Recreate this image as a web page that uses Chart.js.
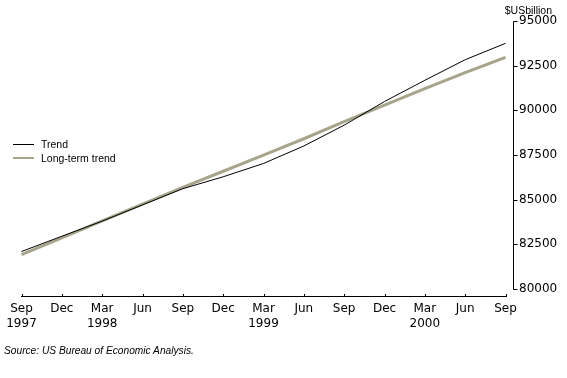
<!DOCTYPE html>
<html><head><meta charset="utf-8">
<script src="https://cdn.jsdelivr.net/npm/chart.js@4"></script>
<style>
html,body{margin:0;padding:0;background:#fff;}
#wrap{position:relative;width:567px;height:378px;overflow:hidden;}
canvas{position:absolute;left:0;top:0;}
.t{position:absolute;font-family:"Liberation Sans",Arial,sans-serif;font-size:10.5px;line-height:12px;color:#000;white-space:nowrap;}
.sw{position:absolute;left:13px;width:21px;}
#src{font-style:italic;font-size:10.2px;}
#unit{right:15px;top:4px;}
</style></head><body>
<div id="wrap">
<canvas id="c" width="567" height="378"></canvas>
<div class="t" id="unit"></div>
<div class="sw" style="top:144px;height:1px;background:#000"></div>
<div class="t" style="left:41px;top:138px;">Trend</div>
<div class="sw" style="top:156.5px;height:2.5px;background:#a6a58c"></div>
<div class="t" style="left:41px;top:152px;">Long-term trend</div>
<div class="t" id="src" style="left:4px;top:345px;">Source: US Bureau of Economic Analysis.</div>
</div>
<script>
const quarters = ['Sep','Dec','Mar','Jun','Sep','Dec','Mar','Jun','Sep','Dec','Mar','Jun','Sep'];
const years = ['1997','','1998','','','','1999','','','','2000','',''];
const trend = [82090,82945,83790,84700,85610,86275,87020,88000,89165,90490,91680,92830,93750];
const longTermTrend = [81910,82855,83800,84740,85680,86585,87490,88405,89360,90290,91215,92110,92965];
const yTicks = [80000,82500,85000,87500,90000,92500,95000];
const unitLabel = '$USbillion';

document.getElementById('unit').textContent = unitLabel;
const labels = quarters.map((q,i)=>[q, years[i]]);

const axisPlugin = {
  id:'axisLines',
  afterDraw(chart){
    const {ctx, chartArea, scales:{x,y}} = chart;
    ctx.save();
    ctx.strokeStyle='#000'; ctx.lineWidth=1;
    const ax = Math.round(chartArea.right + 7) + 0.5;
    const yTop = Math.round(y.getPixelForValue(yTicks[yTicks.length-1])) + 0.5;
    const yBot = Math.round(y.getPixelForValue(yTicks[0])) + 0.5;
    ctx.beginPath();
    ctx.moveTo(ax, yTop); ctx.lineTo(ax, yBot);
    yTicks.forEach(v=>{ const p=Math.round(y.getPixelForValue(v))+0.5; ctx.moveTo(ax,p); ctx.lineTo(ax+4,p); });
    const by = Math.round(chartArea.bottom);
    quarters.forEach((q,i)=>{ const px=Math.round(x.getPixelForValue(i))+0.5; ctx.moveTo(px,by); ctx.lineTo(px,by-3); });
    ctx.stroke();
    ctx.restore();
  }
};

new Chart(document.getElementById('c'), {
  type:'line',
  data:{
    labels,
    datasets:[
      {label:'Trend', data:trend, borderColor:'#000', borderWidth:1, pointRadius:0, tension:0, fill:false},
      {label:'Long-term trend', data:longTermTrend, borderColor:'#a6a58c', borderWidth:3, pointRadius:0, tension:0, fill:false}
    ]
  },
  options:{
    responsive:false, animation:false,
    layout:{padding:{left:21.5, right:0, top:21, bottom:45}},
    plugins:{
      legend:{display:false},
      tooltip:{enabled:false},
      title:{display:false}
    },
    scales:{
      x:{
        offset:false,
        grid:{drawOnChartArea:false, drawTicks:false},
        border:{display:true, color:'#000', width:1},
        ticks:{autoSkip:false, maxRotation:0, minRotation:0, padding:5, color:'#000',
          font:{family:'"DejaVu Sans", sans-serif', size:12, lineHeight:'15px'}},
        afterFit(s){ s.height = 36.5; }
      },
      y:{
        position:'right', min:79570, max:95000,
        grid:{drawOnChartArea:false, drawTicks:false},
        border:{display:false},
        afterBuildTicks(s){ s.ticks = yTicks.map(v=>({value:v})); },
        ticks:{padding:13.5, color:'#000', callback:v=>String(v),
          font:{family:'"DejaVu Sans", sans-serif', size:12}},
        afterFit(s){ s.width = 61.5; }
      }
    }
  },
  plugins:[axisPlugin]
});
</script>
</body></html>
